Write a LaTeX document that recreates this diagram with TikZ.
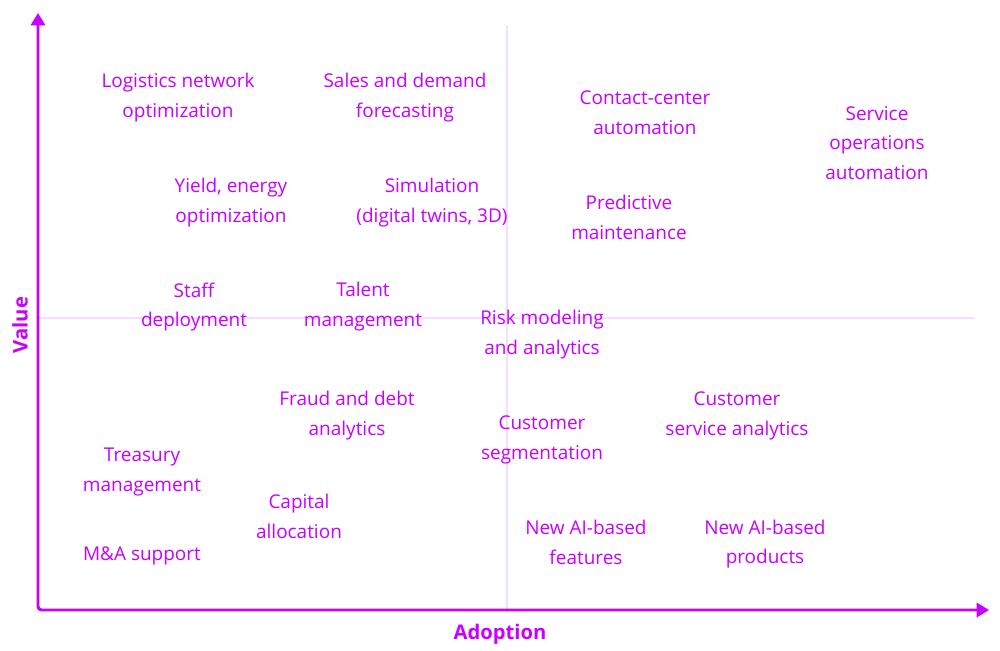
\documentclass[tikz,border=0pt]{standalone}
\usepackage{fontspec}
\setmainfont{Open Sans}
\usetikzlibrary{arrows.meta}
\definecolor{violet}{HTML}{C800FF}
\definecolor{paleviolet}{HTML}{F6DEFF}

\begin{document}
\begin{tikzpicture}[x = 0.02cm, y = 0.02cm]
	\tikzstyle{axisStyle} = [draw = violet, line width = 1.7pt, rounded corners = 2pt, {Triangle[width = 8pt, length = 7pt]}-{Triangle[width = 8pt, length = 7pt]}]
	\tikzstyle{guideStyle} = [draw = paleviolet, line width = 0.6pt]
	\tikzstyle{itemStyle} = [text = violet, align = center, inner sep = 0pt, font = \fontsize{10.8}{17}\selectfont]
	\tikzstyle{axisLabelStyle} = [text = violet, inner sep = 0pt, font = \fontsize{11.5}{13}\selectfont\bfseries]
	\useasboundingbox (0,0) rectangle (1000,650);
	% guide lines
	\coordinate (vtop) at (507,625);
	\coordinate (vbot) at (507,40);
	\coordinate (hleft) at (38,332);
	\coordinate (hright) at (975,332);
	\draw[guideStyle] (vtop) -- (vbot);
	\draw[guideStyle] (hleft) -- (hright);
	% axes
	\coordinate (ytip) at (38,637);
	\coordinate (xtip) at (989,40);
	\draw[axisStyle] (ytip) |- (xtip);
	\node[axisLabelStyle, rotate = 90] (value) at (20,325) {Value};
	\node[axisLabelStyle] (adoption) at (500,16) {Adoption};
	% use cases
	\node[itemStyle] (logistics) at (178,552) {Logistics network\\optimization};
	\node[itemStyle] (sales) at (405,552) {Sales and demand\\forecasting};
	\node[itemStyle] (contact) at (645,537) {Contact-center\\automation};
	\node[itemStyle] (service) at (877,507) {Service\\operations\\automation};
	\node[itemStyle] (yield) at (231,447) {Yield, energy\\optimization};
	\node[itemStyle] (simulation) at (432,447) {Simulation\\(digital twins, 3D)};
	\node[itemStyle] (predictive) at (629,433) {Predictive\\maintenance};
	\node[itemStyle] (staff) at (194,343) {Staff\\deployment};
	\node[itemStyle] (talent) at (363,343) {Talent\\management};
	\node[itemStyle] (risk) at (542,315) {Risk modeling\\and analytics};
	\node[itemStyle] (fraud) at (347,234) {Fraud and debt\\analytics};
	\node[itemStyle] (segmentation) at (542,210) {Customer\\segmentation};
	\node[itemStyle] (custservice) at (737,234) {Customer\\service analytics};
	\node[itemStyle] (treasury) at (142,178) {Treasury\\management};
	\node[itemStyle] (capital) at (299,134) {Capital\\allocation};
	\node[itemStyle] (merger) at (142,94) {M\&A support};
	\node[itemStyle] (features) at (586,108) {New AI-based\\features};
	\node[itemStyle] (products) at (765,106) {New AI-based\\products};
\end{tikzpicture}
\end{document}
